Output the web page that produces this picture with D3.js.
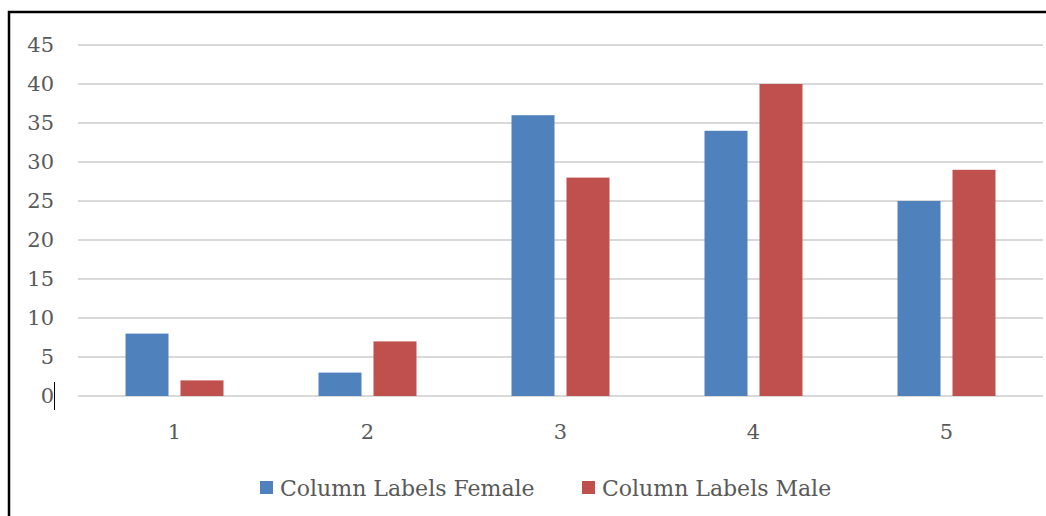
<!DOCTYPE html>
<html>
<head>
<meta charset="utf-8">
<script src="https://cdn.jsdelivr.net/npm/d3@7"></script>
<style>
  body { margin: 0; background: #fff; }
  text { font-family: "DejaVu Serif", "Liberation Serif", serif; fill: #595959; }
</style>
</head>
<body>
<div id="chart"></div>
<script>
const categories = ['1', '2', '3', '4', '5'];
const seriesNames = ['Column Labels Female', 'Column Labels Male'];
const femaleValues = [8, 3, 36, 34, 25];
const maleValues = [2, 7, 28, 40, 29];
const yTicks = [0, 5, 10, 15, 20, 25, 30, 35, 40, 45];
const colors = ['#4F81BD', '#C0504D'];

const width = 1046, height = 516;
const plotLeft = 78, plotRight = 1043, plotTop = 45, plotBottom = 396;

const svg = d3.select('#chart').append('svg')
    .attr('width', width)
    .attr('height', height);

// outer frame (cropped screenshot: only top and left edges visible)
svg.append('path')
    .attr('d', `M9,${height} V12 H${width}`)
    .style('fill', 'none')
    .style('stroke', '#000')
    .style('stroke-width', 2.5);

const y = d3.scaleLinear().domain([0, 45]).range([plotBottom, plotTop]);
const x0 = d3.scaleBand().domain(categories).range([plotLeft, plotRight]).paddingInner(0).paddingOuter(0);
const x1 = d3.scaleBand().domain(seriesNames).range([0, x0.bandwidth()]).paddingInner(0.218).paddingOuter(0.864);

svg.append('g').selectAll('line')
    .data(yTicks)
    .enter().append('line')
    .attr('x1', plotLeft).attr('x2', plotRight)
    .attr('y1', d => y(d)).attr('y2', d => y(d))
    .style('stroke', '#d9d9d9')
    .style('stroke-width', 2);

svg.append('g').selectAll('text')
    .data(yTicks)
    .enter().append('text')
    .attr('x', 54)
    .attr('y', d => y(d))
    .attr('dy', '0.35em')
    .attr('text-anchor', 'end')
    .style('font-size', '21px')
    .text(d => d);

// text cursor next to the 0 label
svg.append('line')
    .attr('x1', 54.5).attr('x2', 54.5)
    .attr('y1', y(0) - 14).attr('y2', y(0) + 14)
    .style('stroke', '#000')
    .style('stroke-width', 1);

const rows = categories.map((c, i) => ({ cat: c, values: [femaleValues[i], maleValues[i]] }));

const groups = svg.append('g').selectAll('g')
    .data(rows)
    .enter().append('g')
    .attr('transform', d => `translate(${x0(d.cat)},0)`);

groups.selectAll('rect')
    .data(d => d.values.map((v, j) => ({ name: seriesNames[j], value: v, j: j })))
    .enter().append('rect')
    .attr('x', d => x1(d.name))
    .attr('width', x1.bandwidth())
    .attr('y', d => y(d.value))
    .attr('height', d => y(0) - y(d.value))
    .style('fill', d => colors[d.j]);

svg.append('g').selectAll('text')
    .data(categories)
    .enter().append('text')
    .attr('x', d => x0(d) + x0.bandwidth() / 2)
    .attr('y', 432)
    .attr('dy', '0.35em')
    .attr('text-anchor', 'middle')
    .style('font-size', '21px')
    .text(d => d);

const legendX = [260, 582];
const legend = svg.append('g').selectAll('g')
    .data(seriesNames)
    .enter().append('g')
    .attr('transform', (d, i) => `translate(${legendX[i]},481)`);
legend.append('rect')
    .attr('width', 13).attr('height', 13)
    .style('fill', (d, i) => colors[i]);
legend.append('text')
    .attr('x', 20)
    .attr('y', 7)
    .attr('dy', '0.35em')
    .style('font-size', '22px')
    .text(d => d);
</script>
</body>
</html>
